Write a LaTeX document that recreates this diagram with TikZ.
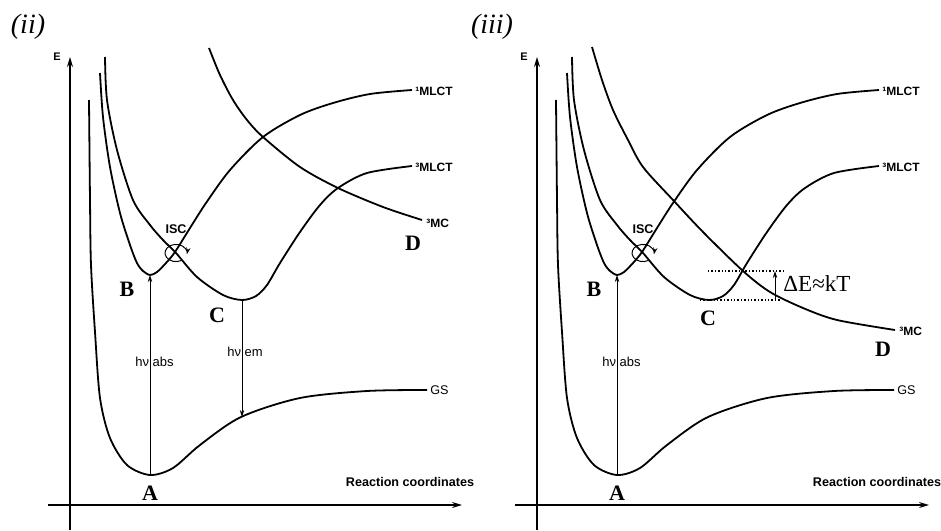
\documentclass[tikz,border=0pt]{standalone}
\usepackage{fontspec}
\setmainfont{Liberation Serif}
\setsansfont{Liberation Sans}
\usetikzlibrary{arrows.meta}
\begin{document}
\begin{tikzpicture}[
    x=0.5pt,
    y=-0.5pt,
    font=\sffamily\fontsize{6}{7}\selectfont,
    curve/.style={line width=0.9pt},
    axis/.style={line width=0.7pt, -{Stealth[length=5pt, width=3pt]}},
    photon/.style={line width=0.5pt, -{Stealth[length=3.5pt, width=2.2pt]}},
    state/.style={font=\rmfamily\bfseries\fontsize{11}{12}\selectfont},
    curvelabel/.style={anchor=west, inner sep=1pt, font=\sffamily\bfseries\fontsize{6}{7}\selectfont},
    panel/.style={font=\rmfamily\itshape\fontsize{14}{16}\selectfont},
    level/.style={densely dotted, line width=0.7pt}
]
\useasboundingbox (0,0) rectangle (941,530);

\node[panel] (title-ii) at (28,27) {(ii)};
\node[panel] (title-iii) at (492,27) {(iii)};

% parts common to both panels
\foreach \s/\p in {0/ii,467/iii} {
\begin{scope}[shift={(\s,0)}]
    \draw[axis] (70,530) -- (70,57);
    \draw[axis] (48,505) -- (462,505);
    \node[font=\sffamily\bfseries\fontsize{5.5}{6}\selectfont] (E-\p) at (57,57) {E};
    \node[font=\sffamily\bfseries\fontsize{6.3}{7}\selectfont] (rc-\p) at (410,482) {Reaction coordinates};

    \coordinate (minA-\p) at (150,475);
    \coordinate (minB-\p) at (150,275);
    \coordinate (isc-\p) at (176,253);

    % GS
    \draw[curve] plot[smooth] coordinates {(89,100) (90,200) (91,265) (95,332) (100,398) (110,438)
        (127,465) (150,475) (173,468) (200,445) (241,417) (300,398) (367,391) (427,390)};
    \node[anchor=west, inner sep=1pt, font=\sffamily\fontsize{6.3}{7}\selectfont] (gs-\p) at (428,390) {GS};

    % 1MLCT
    \draw[curve] plot[smooth] coordinates {(100,73) (103,117) (110,167) (120,213) (130,245) (137,263)
        (143,271) (150,275) (157,272) (166,263) (175,252) (190,228) (206,203) (230,170) (263,137)
        (300,115) (333,103) (370,94) (412,90)};
    \node[curvelabel] (s1-\p) at (413,91) {¹MLCT};

    % 3MLCT
    \draw[curve] plot[smooth] coordinates {(105,57) (107,100) (117,150) (133,200) (150,225) (163,240)
        (176,253) (197,277) (223,295) (242,300) (256,296) (267,285) (280,263) (300,232) (320,205)
        (338,188) (367,173) (412,166)};
    \node[curvelabel] (t1-\p) at (413,167) {³MLCT};

    \draw[photon] (minA-\p) -- (minB-\p);
    \node[anchor=west, inner sep=0pt, font=\sffamily\fontsize{6.5}{7}\selectfont] (abs-\p) at (135,362) {hν abs};
    \node[state] (A-\p) at (150,493) {A};
    \node[state] (B-\p) at (127,289) {B};

    \node[font=\sffamily\bfseries\fontsize{6.3}{7}\selectfont] (isclabel-\p) at (176,229) {ISC};
    \draw[photon] ([shift={(-60:5.5pt and 4.3pt)}]isc-\p) arc[start angle=-60, end angle=-370, x radius=5.5pt, y radius=4.3pt];
\end{scope}
}

% (ii) 3MC and emission
\draw[curve] plot[smooth] coordinates {(209,48) (220,75) (233,100) (247,120) (263,137) (300,167)
    (338,188) (383,207) (422,220)};
\node[curvelabel] (t2-ii) at (424,223) {³MC};
\node[state] (D-ii) at (413,243) {D};
\node[state] (C-ii) at (217,315) {C};
\coordinate (minC-ii) at (242,300);
\coordinate (gsC-ii) at (242,417);
\draw[photon] (minC-ii) -- (gsC-ii);
\node[anchor=west, inner sep=0pt, font=\sffamily\fontsize{6.5}{7}\selectfont] (em-ii) at (227,352) {hν em};

% (iii) 3MC and barrier
\draw[curve] plot[smooth] coordinates {(592,47) (602,80) (613,110) (628,140) (643,167) (673,200)
    (703,232) (743,271) (770,292) (803,308) (837,320) (895,330)};
\node[curvelabel] (t2-iii) at (897,331) {³MC};
\node[state] (D-iii) at (883,349) {D};
\node[state] (C-iii) at (708,318) {C};
\coordinate (topL) at (708,271);
\coordinate (topR) at (783,271);
\coordinate (botL) at (700,300);
\coordinate (botR) at (780,300);
\draw[level] (topL) -- (topR);
\draw[level] (botL) -- (botR);
\coordinate (dEbot) at (775,300);
\coordinate (dEtop) at (775,271);
\draw[photon] (dEbot) -- (dEtop);
\node[anchor=west, inner sep=1pt, font=\rmfamily\fontsize{11.5}{13}\selectfont] (dE) at (781,284) {ΔE≈kT};
\end{tikzpicture}
\end{document}
